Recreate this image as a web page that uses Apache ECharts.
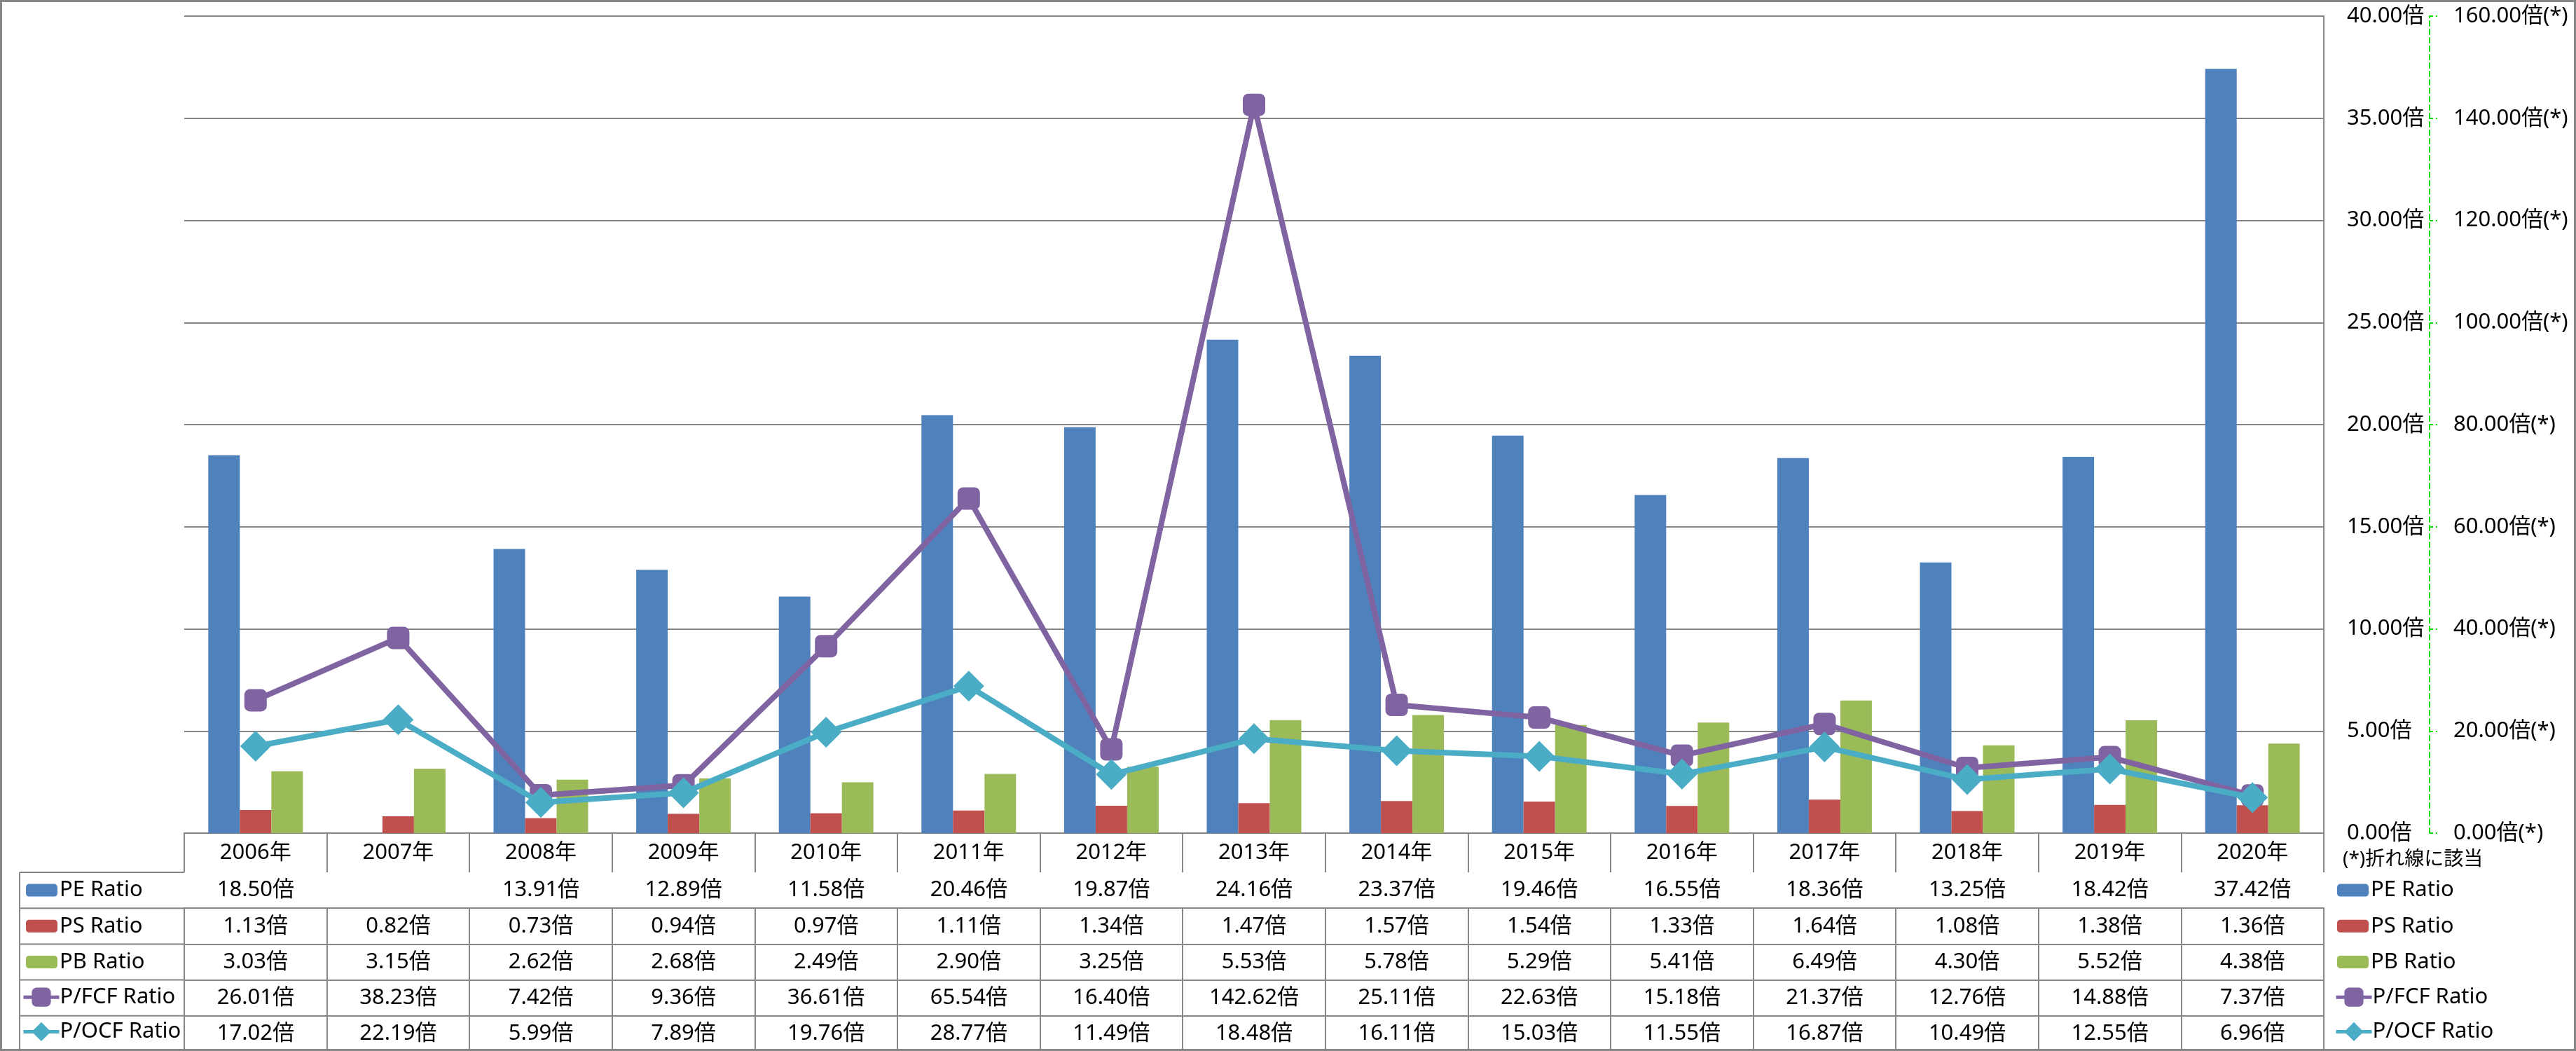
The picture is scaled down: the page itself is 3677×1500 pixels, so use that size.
<!DOCTYPE html>
<html><head><meta charset="utf-8">
<script src="https://cdn.jsdelivr.net/npm/echarts@6/dist/echarts.min.js"></script>
<style>html,body{margin:0;padding:0;background:#fff}#c{width:3677px;height:1500px}</style>
</head><body><div id="c"></div>
<script>
var years = ['2006年','2007年','2008年','2009年','2010年','2011年','2012年','2013年','2014年','2015年','2016年','2017年','2018年','2019年','2020年'];
var peRatio  = [18.50, null, 13.91, 12.89, 11.58, 20.46, 19.87, 24.16, 23.37, 19.46, 16.55, 18.36, 13.25, 18.42, 37.42];
var psRatio  = [1.13, 0.82, 0.73, 0.94, 0.97, 1.11, 1.34, 1.47, 1.57, 1.54, 1.33, 1.64, 1.08, 1.38, 1.36];
var pbRatio  = [3.03, 3.15, 2.62, 2.68, 2.49, 2.90, 3.25, 5.53, 5.78, 5.29, 5.41, 6.49, 4.30, 5.52, 4.38];
var pfcfRatio = [26.01, 38.23, 7.42, 9.36, 36.61, 65.54, 16.40, 142.62, 25.11, 22.63, 15.18, 21.37, 12.76, 14.88, 7.37];
var pocfRatio = [17.02, 22.19, 5.99, 7.89, 19.76, 28.77, 11.49, 18.48, 16.11, 15.03, 11.55, 16.87, 10.49, 12.55, 6.96];
var seriesNames = ['PE Ratio','PS Ratio','PB Ratio','P/FCF Ratio','P/OCF Ratio'];
var note = '(*)折れ線に該当';

var FONT = "'Noto Sans','Noto Sans CJK JP',sans-serif";
var GRAY = '#868686';
var colors = ['#4F81BD','#C0504D','#9BBB59','#8064A2','#4BACC6'];
var W = 3677, H = 1500;
var gridL = 263, gridR = 3317, gridT = 23, gridB = 1189;
var headH = 56, rowH = 51.2;
var fs = 31;

function fmt(v){ return (v === null || v === undefined) ? '' : v.toFixed(2) + '倍'; }
var rowData = [peRatio, psRatio, pbRatio, pfcfRatio, pocfRatio];

var xAxes = [{
  type:'category', data: years, position:'bottom', gridIndex:0, boundaryGap:true,
  axisLine:{show:true, lineStyle:{color:GRAY, width:2}},
  axisTick:{show:true, interval:0, length:headH, lineStyle:{color:GRAY, width:2}},
  axisLabel:{interval:0, margin:headH/2, verticalAlign:'middle', color:'#000', fontSize:fs, fontFamily:FONT}
}];
rowData.forEach(function(arr, r){
  xAxes.push({
    type:'category', data: years, position:'bottom', gridIndex:0, boundaryGap:true,
    offset: headH + r*rowH,
    axisLine:{show:true, lineStyle:{color:GRAY, width:2}},
    axisTick:{show:true, interval:0, length:rowH, lineStyle:{color:GRAY, width:2}},
    axisLabel:{interval:0, margin:rowH/2, verticalAlign:'middle', color:'#000', fontSize:fs, fontFamily:FONT,
      formatter:function(v, i){ return fmt(arr[i]); }},
    splitLine:{show:false}
  });
});

var graphics = [
  {type:'rect', shape:{x:1.5, y:1.5, width:W-3, height:H-3}, style:{fill:null, stroke:GRAY, lineWidth:3}, silent:true}
];
var legLeft = 28;
for (var k = 0; k <= 5; k++) {
  var yy = gridB + headH + k*rowH;
  graphics.push({type:'line', shape:{x1:legLeft, y1:yy, x2:gridL, y2:yy}, style:{stroke:GRAY, lineWidth:2}, silent:true});
}
graphics.push({type:'line', shape:{x1:legLeft, y1:gridB+headH, x2:legLeft, y2:gridB+headH+5*rowH}, style:{stroke:GRAY, lineWidth:2}, silent:true});
graphics.push({type:'text', left:3344, top:1213, style:{text:note, font:'28px ' + FONT, fill:'#000'}, silent:true});

function barLegend(x){
  return {
    data: seriesNames.slice(0,3), orient:'vertical', left:x, top: gridB + headH + rowH/2 - 16,
    padding:0, itemGap: rowH - 32, itemWidth:45, itemHeight:18,
    textStyle:{fontSize:fs, fontFamily:FONT, color:'#000', lineHeight:32, padding:[0,0,0,-2]},
    selectedMode:false
  };
}
function lineLegend(x){
  return {
    data: seriesNames.slice(3), orient:'vertical', left:x, top: gridB + headH + 3*rowH + rowH/2 - 17,
    padding:0, itemGap: rowH - 34, itemWidth:51, itemHeight:34,
    lineStyle:{width:5},
    textStyle:{fontSize:fs, fontFamily:FONT, color:'#000', lineHeight:32, padding:[0,0,0,-4]},
    selectedMode:false
  };
}

var option = {
  animation:false,
  backgroundColor:'#fff',
  color: colors,
  grid:{left:gridL, right:W-gridR, top:gridT, bottom:H-gridB, containLabel:false},
  legend:[barLegend(37), lineLegend(31), barLegend(3336), lineLegend(3332)],
  xAxis: xAxes,
  yAxis:[{
    type:'value', position:'right', min:0, max:40, interval:5,
    axisLine:{show:true, lineStyle:{color:GRAY, width:2}},
    axisTick:{show:false},
    axisLabel:{margin:33, color:'#000', fontSize:fs, fontFamily:FONT, formatter:function(v){return v.toFixed(2)+'倍';}},
    splitLine:{show:true, lineStyle:{color:GRAY, width:2}}
  },{
    type:'value', position:'right', offset:3468-gridR, min:0, max:160, interval:20,
    axisLine:{show:true, lineStyle:{color:'#00dd00', width:2, type:[7,5]}},
    axisTick:{show:true, length:11, lineStyle:{color:'#00dd00', width:2, type:[5,4]}},
    axisLabel:{margin:34, color:'#000', fontSize:fs, fontFamily:FONT, formatter:function(v){return v.toFixed(2)+'倍(*)';}},
    splitLine:{show:false}
  }],
  graphic: graphics,
  series:[
    {name:seriesNames[0], type:'bar', xAxisIndex:0, yAxisIndex:0, data:peRatio, barWidth:45, barGap:'0%'},
    {name:seriesNames[1], type:'bar', xAxisIndex:0, yAxisIndex:0, data:psRatio, barWidth:45, barGap:'0%'},
    {name:seriesNames[2], type:'bar', xAxisIndex:0, yAxisIndex:0, data:pbRatio, barWidth:45, barGap:'0%'},
    {name:seriesNames[3], type:'line', xAxisIndex:0, yAxisIndex:1, data:pfcfRatio, symbol:'roundRect', symbolSize:32,
      lineStyle:{width:8, color:colors[3]}, itemStyle:{color:colors[3]}, z:5},
    {name:seriesNames[4], type:'line', xAxisIndex:0, yAxisIndex:1, data:pocfRatio, symbol:'diamond', symbolSize:44,
      lineStyle:{width:8, color:colors[4]}, itemStyle:{color:colors[4]}, z:6}
  ]
};
var chart = echarts.init(document.getElementById('c'), null, {renderer:'canvas'});
chart.setOption(option);
</script></body></html>
